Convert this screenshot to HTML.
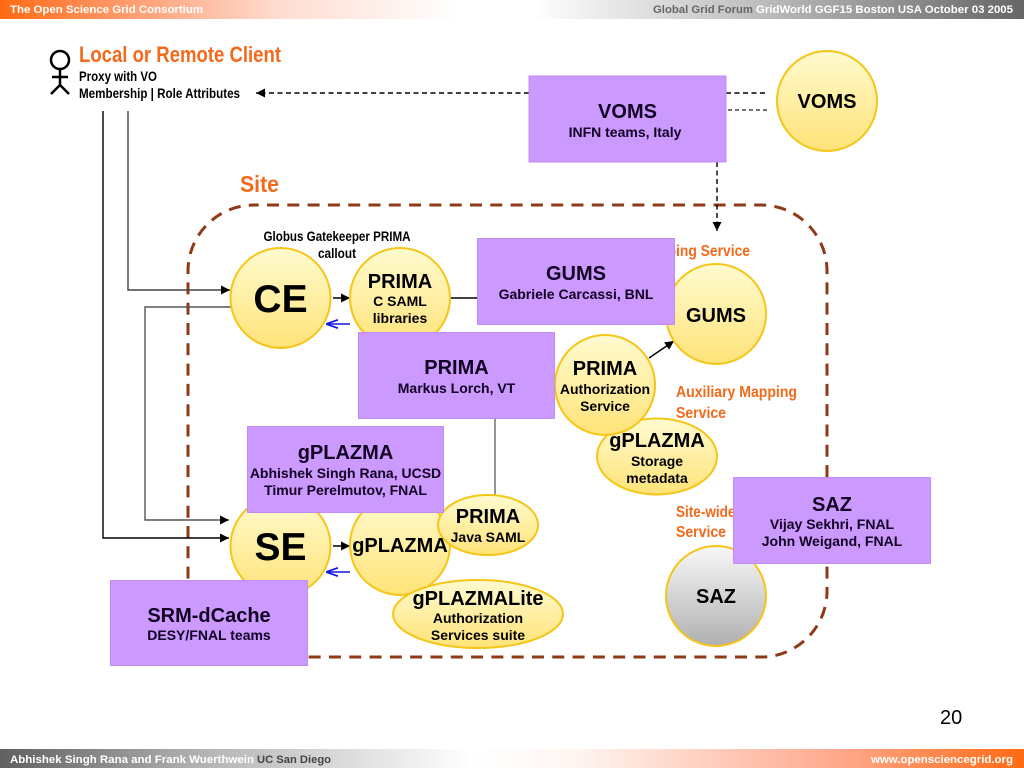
<!DOCTYPE html>
<html><head><meta charset="utf-8"><style>
html,body{margin:0;padding:0;background:#fff;width:1024px;height:768px;overflow:hidden}
svg{display:block}
text{font-family:"Liberation Sans",sans-serif;font-weight:bold;fill:#000}
.o{fill:#f26a1b}
.m{text-anchor:middle}
.h{font-size:20px;text-anchor:middle;fill:#110022}
.s{font-size:14px;text-anchor:middle;fill:#110022}
.n{font-size:14px;text-anchor:middle}
.t{font-size:20px;text-anchor:middle}
.r{fill:#cc99ff;stroke:#c08df5;stroke-width:1}
.c{fill:url(#y);stroke:#f5c518;stroke-width:2}
</style></head><body>
<svg width="1024" height="768" viewBox="0 0 1024 768" xmlns="http://www.w3.org/2000/svg">
<defs>
<linearGradient id="y" x1="0" y1="0" x2="0" y2="1"><stop offset="0" stop-color="#fffbd0"/><stop offset="1" stop-color="#ffe378"/></linearGradient>
<linearGradient id="g" x1="0" y1="0" x2="0" y2="1"><stop offset="0" stop-color="#f8f8f8"/><stop offset="1" stop-color="#b0b0b0"/></linearGradient>
<linearGradient id="tb" x1="0" y1="0" x2="1" y2="0"><stop offset="0" stop-color="#ff6a13"/><stop offset=".12" stop-color="#ff9a6c"/><stop offset=".27" stop-color="#ffdcd0"/><stop offset=".45" stop-color="#ffffff"/><stop offset=".52" stop-color="#ffffff"/><stop offset=".72" stop-color="#c4c4c4"/><stop offset="1" stop-color="#666666"/></linearGradient>
<linearGradient id="bb" x1="0" y1="0" x2="1" y2="0"><stop offset="0" stop-color="#606060"/><stop offset=".2" stop-color="#b4b4b4"/><stop offset=".46" stop-color="#ffffff"/><stop offset=".56" stop-color="#fff6f2"/><stop offset=".82" stop-color="#ffa88c"/><stop offset="1" stop-color="#ff6a13"/></linearGradient>
<marker id="a" viewBox="0 0 10 10" refX="10" refY="5" markerWidth="9" markerHeight="9" markerUnits="userSpaceOnUse" orient="auto"><path d="M0 0L10 5L0 10z" fill="#000"/></marker>
<marker id="b" viewBox="0 0 10 10" refX="10" refY="5" markerWidth="12" markerHeight="12" markerUnits="userSpaceOnUse" orient="auto"><path d="M0 1.5L10 5L0 8.5" fill="none" stroke="#1515d8" stroke-width="1.4"/></marker>
</defs>

<rect x="0" y="0" width="1024" height="19" fill="url(#tb)"/>
<text x="10" y="13" font-size="11" style="fill:#fff" textLength="193" lengthAdjust="spacingAndGlyphs">The Open Science Grid Consortium</text>
<text x="653" y="13" font-size="11" style="fill:#666" textLength="100" lengthAdjust="spacingAndGlyphs">Global Grid Forum</text>
<text x="756" y="13" font-size="11" style="fill:#fff" textLength="257" lengthAdjust="spacingAndGlyphs">GridWorld GGF15 Boston USA October 03 2005</text>

<rect x="0" y="749" width="1024" height="19" fill="url(#bb)"/>
<text x="10" y="763" font-size="11" style="fill:#fff" textLength="244" lengthAdjust="spacingAndGlyphs">Abhishek Singh Rana and Frank Wuerthwein</text>
<text x="257" y="763" font-size="11" style="fill:#444" textLength="74" lengthAdjust="spacingAndGlyphs">UC San Diego</text>
<text x="871" y="763" font-size="11" style="fill:#fff" textLength="142" lengthAdjust="spacingAndGlyphs">www.opensciencegrid.org</text>
<text x="940" y="724" font-size="20" style="font-weight:normal">20</text>

<!-- actor -->
<g fill="none" stroke="#000" stroke-width="2.5">
<circle cx="60" cy="60" r="9"/><path d="M60 69V85M52 77H68M51 94L60 85L69 94"/>
</g>
<text x="79" y="62" font-size="22" style="fill:#f26a1b" textLength="202" lengthAdjust="spacingAndGlyphs">Local or Remote Client</text>
<text x="79" y="81" font-size="14" textLength="78" lengthAdjust="spacingAndGlyphs">Proxy with VO</text>
<text x="79" y="98" font-size="14" textLength="161" lengthAdjust="spacingAndGlyphs">Membership | Role Attributes</text>
<text x="240" y="192" font-size="23" style="fill:#f26a1b" textLength="39" lengthAdjust="spacingAndGlyphs">Site</text>

<!-- site boundary -->
<rect x="188" y="205" width="639" height="452" rx="66" ry="66" fill="none" stroke="#8e3a17" stroke-width="3" stroke-dasharray="12 8.3" stroke-dashoffset="7.3"/>

<!-- connectors -->
<g fill="none" stroke="#000" stroke-width="1.4">
<path d="M103 111V538H229" marker-end="url(#a)"/>
<path d="M128 111V290H230" stroke="#444" marker-end="url(#a)"/>
<path d="M231 307H145V520H229" stroke="#555" marker-end="url(#a)"/>
<path d="M333 298H350" marker-end="url(#a)"/>
<path d="M333 546H350" marker-end="url(#a)"/>
<path d="M450 298H478"/>
<path d="M495 418V496" stroke="#666"/>
<path d="M649 358L674 341" marker-end="url(#a)"/>
<path d="M350 324H326" stroke="#1515d8" marker-end="url(#b)"/>
<path d="M350 572H326" stroke="#1515d8" marker-end="url(#b)"/>
<path d="M529 93H256" stroke-dasharray="5 3.5" marker-end="url(#a)"/>
<path d="M726 93H768" stroke-dasharray="5 3.5"/>
<path d="M728 110H768" stroke-dasharray="4 3" stroke="#444"/>
<path d="M717 162V231" stroke-dasharray="5 3.5" marker-end="url(#a)"/>
</g>

<!-- orange labels -->
<text x="676" y="256" font-size="16" text-anchor="end" style="fill:#f26a1b" textLength="90" lengthAdjust="spacingAndGlyphs">Identity Mapp</text>
<text x="676" y="256" font-size="16" style="fill:#f26a1b" textLength="74" lengthAdjust="spacingAndGlyphs">ing Service</text>
<text x="676" y="397" font-size="16" style="fill:#f26a1b" textLength="121" lengthAdjust="spacingAndGlyphs">Auxiliary Mapping</text>
<text x="676" y="418" font-size="16" style="fill:#f26a1b" textLength="50" lengthAdjust="spacingAndGlyphs">Service</text>
<text x="676" y="517" font-size="16" style="fill:#f26a1b" textLength="150" lengthAdjust="spacingAndGlyphs">Site-wide Authorization</text>
<text x="676" y="537" font-size="16" style="fill:#f26a1b" textLength="50" lengthAdjust="spacingAndGlyphs">Service</text>

<text x="337" y="241" font-size="13.5" class="m" textLength="147" lengthAdjust="spacingAndGlyphs">Globus Gatekeeper PRIMA</text>
<text x="337" y="258" font-size="13.5" class="m" textLength="38" lengthAdjust="spacingAndGlyphs">callout</text>

<!-- nodes -->
<circle class="c" cx="827" cy="101" r="50"/>
<circle class="c" cx="280.5" cy="298" r="50"/>
<circle class="c" cx="400" cy="298" r="50"/>
<circle class="c" cx="716" cy="314" r="50"/>
<ellipse class="c" cx="657" cy="456.5" rx="60" ry="38"/>
<circle class="c" cx="605" cy="385" r="50"/>
<circle class="c" cx="280.5" cy="546" r="50"/>
<circle class="c" cx="400" cy="545" r="50"/>
<ellipse class="c" cx="488" cy="525" rx="50" ry="30"/>
<ellipse class="c" cx="478" cy="614" rx="85" ry="34"/>
<circle cx="716" cy="596" r="50" fill="url(#g)" stroke="#f5c518" stroke-width="2"/>

<text class="t" x="827" y="108">VOMS</text>
<text x="280.5" y="312" font-size="39" class="m">CE</text>
<text class="t" x="400" y="288">PRIMA</text>
<text class="n" x="400" y="306">C SAML</text>
<text class="n" x="400" y="323">libraries</text>
<text class="t" x="716" y="322">GUMS</text>
<text class="t" x="605" y="375">PRIMA</text>
<text class="n" x="605" y="394">Authorization</text>
<text class="n" x="605" y="411">Service</text>
<text class="t" x="657" y="447">gPLAZMA</text>
<text class="n" x="657" y="466">Storage</text>
<text class="n" x="657" y="483">metadata</text>
<text x="280.5" y="560" font-size="39" class="m">SE</text>
<text class="t" x="400" y="552">gPLAZMA</text>
<text class="t" x="488" y="523">PRIMA</text>
<text class="n" x="488" y="542">Java SAML</text>
<text class="t" x="478" y="605">gPLAZMALite</text>
<text class="n" x="478" y="623">Authorization</text>
<text class="n" x="478" y="640">Services suite</text>
<text class="t" x="716" y="603">SAZ</text>

<!-- purple attribution boxes -->
<rect class="r" x="529" y="76" width="197" height="86"/>
<text class="h" x="627.5" y="118">VOMS</text>
<text class="s" x="625" y="137">INFN teams, Italy</text>

<rect class="r" x="477.5" y="238.5" width="197" height="86"/>
<text class="h" x="576" y="280">GUMS</text>
<text class="s" x="576" y="299">Gabriele Carcassi, BNL</text>

<rect class="r" x="358.5" y="332.5" width="196" height="86"/>
<text class="h" x="456.5" y="374">PRIMA</text>
<text class="s" x="456.5" y="393">Markus Lorch, VT</text>

<rect class="r" x="247.5" y="426.5" width="196" height="86"/>
<text class="h" x="345.5" y="459">gPLAZMA</text>
<text class="s" x="345.5" y="478">Abhishek Singh Rana, UCSD</text>
<text class="s" x="345.5" y="495">Timur Perelmutov, FNAL</text>

<rect class="r" x="110.5" y="580.5" width="197" height="85"/>
<text class="h" x="209" y="622">SRM-dCache</text>
<text class="s" x="209" y="640">DESY/FNAL teams</text>

<rect class="r" x="733.5" y="477.5" width="197" height="86"/>
<text class="h" x="832" y="511">SAZ</text>
<text class="s" x="832" y="529">Vijay Sekhri, FNAL</text>
<text class="s" x="832" y="546">John Weigand, FNAL</text>
</svg>
</body></html>
